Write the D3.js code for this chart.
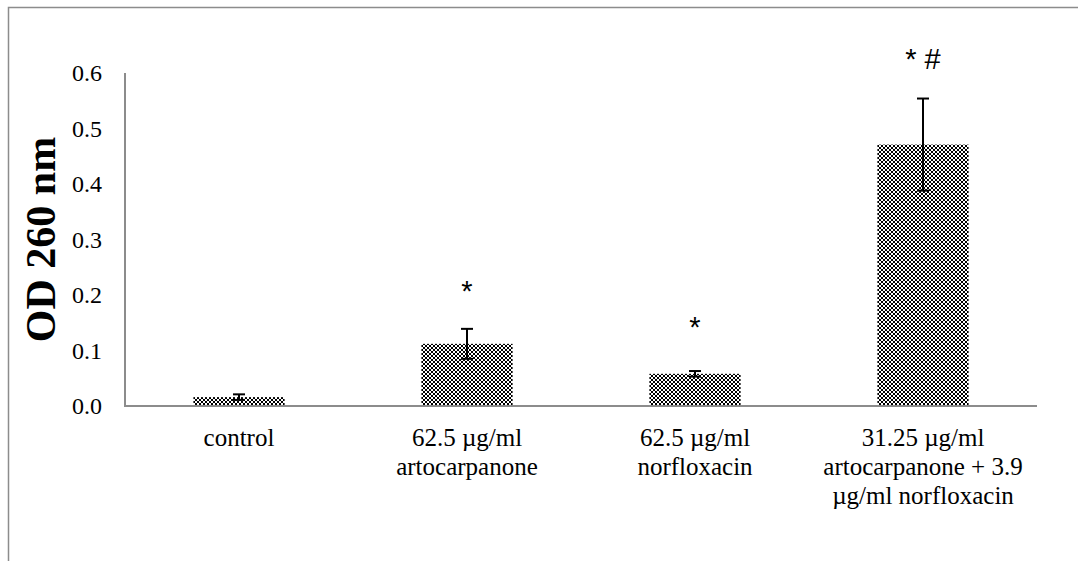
<!DOCTYPE html>
<html>
<head>
<meta charset="utf-8">
<script src="https://cdn.jsdelivr.net/npm/d3@7"></script>
<style>
  body { margin: 0; background: #fff; }
  svg { display: block; }
</style>
</head>
<body>
<svg id="chart"></svg>
<script>
var screen = {width:1078, height:561};
var margins = {top:73, right:41, bottom:155, left:125};

// data
var categories = [
    ["control"],
    ["62.5 \u00b5g/ml", "artocarpanone"],
    ["62.5 \u00b5g/ml", "norfloxacin"],
    ["31.25 \u00b5g/ml", "artocarpanone + 3.9", "\u00b5g/ml norfloxacin"]
];
var values = [0.016, 0.112, 0.058, 0.471];
var errors = [0.005, 0.027, 0.005, 0.083];
var marks = ["", "*", "*", "* #"];
var markLevels = [0, 0.19, 0.125, 0.607];
var yTicks = [0, 0.1, 0.2, 0.3, 0.4, 0.5, 0.6];

var serif = "'Liberation Serif', 'Times New Roman', serif";
var sans = "'Liberation Sans', Arial, sans-serif";

var svg = d3.select("#chart")
    .attr("width", screen.width)
    .attr("height", screen.height);

// checker fill like the excel pattern
var pat = svg.append("defs").append("pattern")
    .attr("id", "checker")
    .attr("width", 4).attr("height", 4)
    .attr("patternUnits", "userSpaceOnUse");
pat.append("rect").attr("width", 4).attr("height", 4).attr("fill", "#fff");
pat.append("rect").attr("width", 2).attr("height", 2).attr("fill", "#000");
pat.append("rect").attr("x", 2).attr("y", 2).attr("width", 2).attr("height", 2).attr("fill", "#000");

// chart frame
svg.append("path")
    .attr("d", "M8.5," + screen.height + "V7.5H" + screen.width)
    .attr("fill", "none")
    .attr("stroke", "#8c8c8c")
    .attr("stroke-width", 1.5);

var width = screen.width - margins.left - margins.right;
var height = screen.height - margins.top - margins.bottom;

var xscale = d3.scaleBand()
    .domain(d3.range(categories.length))
    .range([0, width])
    .paddingInner(0.6)
    .paddingOuter(0.3);

var yscale = d3.scaleLinear()
    .domain([0, 0.6])
    .range([height, 0]);

var g = svg.append("g")
    .attr("transform", "translate(" + margins.left + "," + margins.top + ")");

// y tick labels
var yAxis = d3.axisLeft(yscale)
    .tickValues(yTicks)
    .tickFormat(d3.format(".1f"))
    .tickSize(0)
    .tickPadding(23);
var ya = g.append("g").call(yAxis)
    .attr("font-family", serif)
    .attr("font-size", 24);
ya.select(".domain").remove();
ya.selectAll("text")
    .attr("fill", "#000");

// bars
g.selectAll(".bar")
    .data(values)
    .enter()
    .append("rect")
    .attr("class", "bar")
    .attr("x", function(d, i) { return xscale(i); })
    .attr("y", function(d) { return yscale(d); })
    .attr("width", xscale.bandwidth())
    .attr("height", function(d) { return height - yscale(d); })
    .attr("fill", "url(#checker)");

// axis lines
g.append("path")
    .attr("d", "M0," + yscale(0.6) + "V" + height + "H" + width)
    .attr("fill", "none")
    .attr("stroke", "#8c8c8c")
    .attr("stroke-width", 2);

// error bars
var cx = function(i) { return xscale(i) + xscale.bandwidth() / 2; };
var eb = g.selectAll(".err")
    .data(values)
    .enter()
    .append("g")
    .attr("class", "err")
    .attr("stroke", "#000")
    .attr("stroke-width", 2);
eb.append("line")
    .attr("x1", function(d, i) { return cx(i); })
    .attr("x2", function(d, i) { return cx(i); })
    .attr("y1", function(d, i) { return yscale(d - errors[i]); })
    .attr("y2", function(d, i) { return yscale(d + errors[i]); });
[-1, 1].forEach(function(s) {
    eb.append("line")
        .attr("x1", function(d, i) { return cx(i) - 6; })
        .attr("x2", function(d, i) { return cx(i) + 6; })
        .attr("y1", function(d, i) { return yscale(d + s * errors[i]); })
        .attr("y2", function(d, i) { return yscale(d + s * errors[i]); });
});

// significance marks
g.selectAll(".mark")
    .data(marks)
    .enter()
    .append("text")
    .attr("class", "mark")
    .attr("x", function(d, i) { return cx(i); })
    .attr("y", function(d, i) { return yscale(markLevels[i]); })
    .attr("text-anchor", "middle")
    .attr("font-family", sans)
    .attr("font-size", 29)
    .attr("fill", "#000")
    .text(function(d) { return d; });

// category labels
var cl = g.selectAll(".cat")
    .data(categories)
    .enter()
    .append("text")
    .attr("class", "cat")
    .attr("text-anchor", "middle")
    .attr("font-family", serif)
    .attr("font-size", 25)
    .attr("fill", "#000");
cl.selectAll("tspan")
    .data(function(d, i) { return d.map(function(t) { return {t: t, i: i}; }); })
    .enter()
    .append("tspan")
    .attr("x", function(d) { return cx(d.i); })
    .attr("y", function(d, j) { return height + 40 + j * 29; })
    .text(function(d) { return d.t; });

// y title
svg.append("text")
    .attr("transform", "translate(55," + (margins.top + height / 2) + ") rotate(-90)")
    .attr("text-anchor", "middle")
    .attr("font-family", serif)
    .attr("font-weight", "bold")
    .attr("font-size", 42)
    .attr("fill", "#000")
    .text("OD 260 nm");
</script>
</body>
</html>
